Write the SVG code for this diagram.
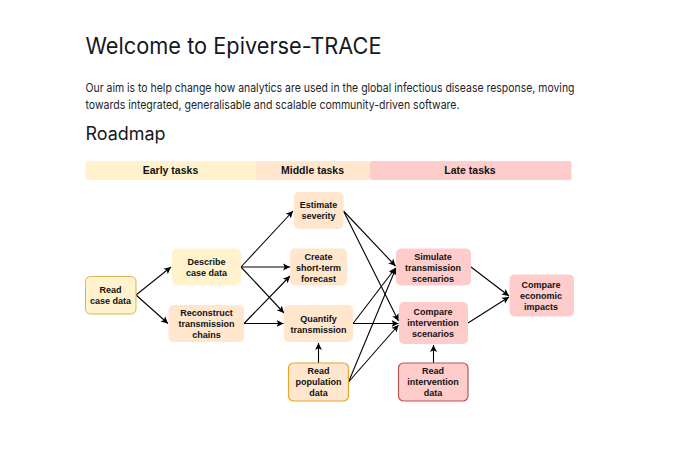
<svg xmlns="http://www.w3.org/2000/svg" width="690" height="460" viewBox="0 0 690 460">
<style>
.h{font-family:"Inter","Noto Sans",sans-serif;fill:#15181d}
.p{font-family:"Inter","Noto Sans",sans-serif;font-size:11.7px;fill:#22262b}
.t{font-family:"Liberation Sans",Arial,sans-serif;font-weight:700;font-size:9px;fill:#111;text-anchor:middle}
.b{font-family:"Liberation Sans",Arial,sans-serif;font-weight:700;font-size:10.5px;fill:#111;text-anchor:middle}
.y{fill:#fff2cc}
.o{fill:#ffe6cc}
.r{fill:#ffcccc}
.ys{fill:#fff2cc;stroke:#d6b656}
.os{fill:#ffe6cc;stroke:#e5a82e;stroke-width:1.2}
.rs{fill:#ffcccc;stroke:#b85450;stroke-width:1.2}
.c line{stroke:#000;stroke-width:1.1;marker-end:url(#a)}
</style>
<defs><marker id="a" markerUnits="userSpaceOnUse" markerWidth="8" markerHeight="8" refX="7" refY="4" orient="auto"><path d="M0 0.5L7 4L0 7.500L1.700 4Z" fill="#000"/></marker></defs>
<rect width="690" height="460" fill="#fff"/>
<text class="h" x="85.500" y="54" font-size="22.500" textLength="296" lengthAdjust="spacingAndGlyphs">Welcome to Epiverse-TRACE</text>
<text class="p" x="85.500" y="92" textLength="489" lengthAdjust="spacingAndGlyphs">Our aim is to help change how analytics are used in the global infectious disease response, moving</text>
<text class="p" x="85.500" y="109" textLength="374" lengthAdjust="spacingAndGlyphs">towards integrated, generalisable and scalable community-driven software.</text>
<text class="h" x="85.500" y="140" font-size="18" textLength="80" lengthAdjust="spacingAndGlyphs">Roadmap</text>
<g id="phase-early"><rect class="y" x="85.500" y="161" width="171" height="19" rx="2"/><text class="b" x="170.500" y="174">Early tasks</text></g>
<g id="phase-middle"><rect class="o" x="256" y="161" width="114" height="19" rx="2"/><text class="b" x="312.500" y="174">Middle tasks</text></g>
<g id="phase-late"><rect class="r" x="370" y="161" width="201.500" height="19" rx="2"/><text class="b" x="470" y="174">Late tasks</text></g>
<g id="connectors" class="c">
<line x1="136" y1="295" x2="171" y2="267"/>
<line x1="136" y1="295" x2="168" y2="323.500"/>
<line x1="241" y1="267" x2="293" y2="211"/>
<line x1="241" y1="267" x2="290" y2="267"/>
<line x1="241" y1="267" x2="284" y2="313"/>
<line x1="244" y1="323.500" x2="290" y2="276"/>
<line x1="244" y1="323.500" x2="283.500" y2="323.500"/>
<line x1="343.500" y1="211" x2="395.500" y2="266"/>
<line x1="343.500" y1="211" x2="398.500" y2="321"/>
<line x1="353" y1="323.500" x2="395.500" y2="268"/>
<line x1="353" y1="323.500" x2="398.500" y2="323.500"/>
<line x1="348.500" y1="382" x2="396" y2="268"/>
<line x1="348.500" y1="382" x2="398.500" y2="325"/>
<line x1="318.500" y1="363" x2="318.500" y2="343"/>
<line x1="433.500" y1="363" x2="433.500" y2="345"/>
<line x1="471" y1="267" x2="509" y2="296"/>
<line x1="468" y1="323" x2="509" y2="297"/>
</g>
<g id="read-case"><rect class="ys" x="85.500" y="276.500" width="50.500" height="37.500" rx="5"/><text class="t" x="110.500" y="293">Read</text><text class="t" x="110.500" y="304">case data</text></g>
<g id="describe"><rect class="y" x="172" y="248.500" width="69" height="37" rx="5"/><text class="t" x="206.500" y="265">Describe</text><text class="t" x="206.500" y="276">case data</text></g>
<g id="reconstruct"><rect class="o" x="168.500" y="305" width="75.500" height="37" rx="5"/><text class="t" x="206.500" y="316">Reconstruct</text><text class="t" x="206.500" y="327">transmission</text><text class="t" x="206.500" y="338">chains</text></g>
<g id="severity"><rect class="o" x="294" y="192" width="49.500" height="37" rx="5"/><text class="t" x="318.500" y="208">Estimate</text><text class="t" x="318.500" y="219">severity</text></g>
<g id="forecast"><rect class="o" x="290" y="248.500" width="57" height="37" rx="5"/><text class="t" x="318.500" y="259.500">Create</text><text class="t" x="318.500" y="270.500">short-term</text><text class="t" x="318.500" y="281.500">forecast</text></g>
<g id="quantify"><rect class="o" x="284" y="305" width="69" height="37" rx="5"/><text class="t" x="318.500" y="321.500">Quantify</text><text class="t" x="318.500" y="332.500">transmission</text></g>
<g id="read-population"><rect class="os" x="288.500" y="363" width="60" height="38" rx="5"/><text class="t" x="318.500" y="374">Read</text><text class="t" x="318.500" y="385">population</text><text class="t" x="318.500" y="396">data</text></g>
<g id="simulate"><rect class="r" x="396" y="248.500" width="75" height="37" rx="5"/><text class="t" x="433" y="259.500">Simulate</text><text class="t" x="433" y="270.500">transmission</text><text class="t" x="433" y="281.500">scenarios</text></g>
<g id="compare-intervention"><rect class="r" x="399" y="302" width="69" height="42" rx="5"/><text class="t" x="433" y="315">Compare</text><text class="t" x="433" y="326">intervention</text><text class="t" x="433" y="337">scenarios</text></g>
<g id="read-intervention"><rect class="rs" x="398.500" y="363" width="69.500" height="38" rx="5"/><text class="t" x="433" y="374">Read</text><text class="t" x="433" y="385">intervention</text><text class="t" x="433" y="396">data</text></g>
<g id="economic"><rect class="r" x="509.500" y="274.500" width="64.500" height="42" rx="5"/><text class="t" x="541" y="288">Compare</text><text class="t" x="541" y="299">economic</text><text class="t" x="541" y="310">impacts</text></g>
</svg>
